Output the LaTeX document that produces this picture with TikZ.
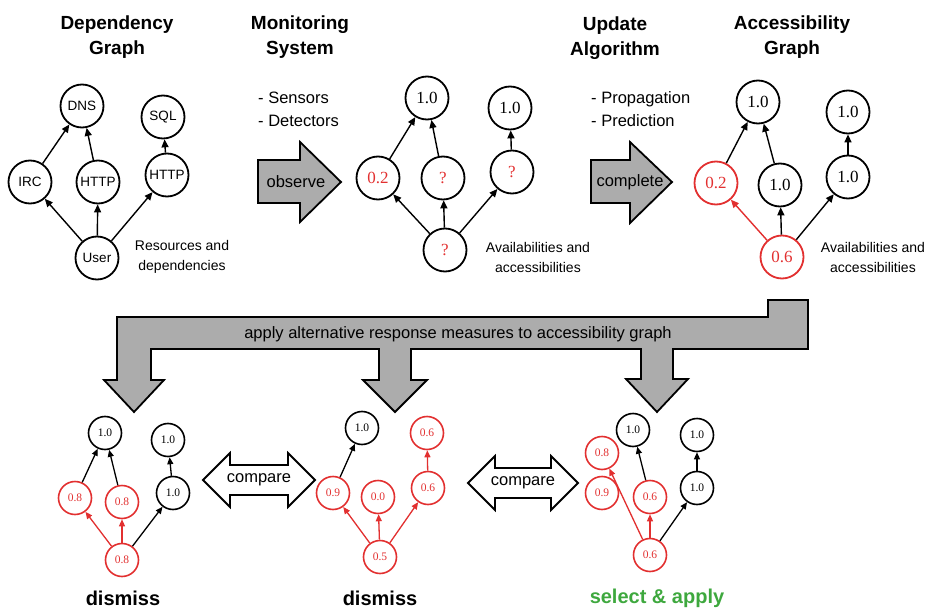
\documentclass[tikz,border=0pt]{standalone}
\usepackage{fontspec}
\setmainfont{Liberation Sans}
\newfontfamily\numfont{Liberation Serif}
\usetikzlibrary{arrows.meta}
\definecolor{nred}{RGB}{226,48,48}
\definecolor{ngreen}{RGB}{62,168,62}
\definecolor{agray}{RGB}{172,172,172}
\begin{document}
\begin{tikzpicture}[x=1pt,y=-1pt,
  titletext/.style={align=center,font=\fontsize{19}{25}\selectfont\bfseries,inner sep=0},
  listtext/.style={align=left,anchor=west,font=\fontsize{16.5}{23}\selectfont,inner sep=0},
  captext/.style={align=center,font=\fontsize{14}{20}\selectfont,inner sep=0},
  gn/.style={circle,draw,line width=1.8,minimum size=43,inner sep=0,font=\fontsize{13.5}{13.5}\selectfont},
  nn/.style={circle,draw,line width=1.8,minimum size=43,inner sep=0,font=\numfont\fontsize{17}{17}\selectfont},
  sn/.style={circle,draw,line width=1.6,minimum size=33,inner sep=0,font=\numfont\fontsize{11.5}{11.5}\selectfont},
  rn/.style={draw=nred,text=nred},
  rt/.style={text=nred},
  edge/.style={-{Triangle[length=8,width=7]},line width=1.4},
  sedge/.style={-{Triangle[length=7,width=6]},line width=1.3},
  redge/.style={draw=nred,fill=nred},
  bigarrow/.style={fill=agray,draw=black,line width=1.8,line join=miter},
  cmparrow/.style={fill=white,draw=black,line width=1.8,line join=miter},
  arrowtext/.style={font=\fontsize{16.5}{16.5}\selectfont,inner sep=0},
  verdict/.style={font=\fontsize{20}{20}\selectfont\bfseries,inner sep=0}
]
\useasboundingbox (0,0) rectangle (930,613);

% titles
\node[titletext] (t1) at (117,37) {Dependency\\Graph};
\node[titletext] (t2) at (300,37) {Monitoring\\System};
\node[titletext] (t3) at (615,38) {Update\\Algorithm};
\node[titletext] (t4) at (792,37) {Accessibility\\Graph};

\node[listtext] (l1) at (258,109) {- Sensors\\- Detectors};
\node[listtext] (l2) at (591,109) {- Propagation\\- Prediction};

% top arrows
\draw[bigarrow] (258,160) -- (300,160) -- (300,142) -- (341,182) -- (300,222) -- (300,203) -- (258,203) -- cycle;
\node[arrowtext] (obs) at (296,182) {observe};
\draw[bigarrow] (591,160) -- (630,160) -- (630,142) -- (672,182) -- (630,223) -- (630,203) -- (591,203) -- cycle;
\node[arrowtext] (cmpl) at (630,182) {complete};

% graph 1: dependency graph
\node[gn] (dns) at (82,106) {DNS};
\node[gn] (sql) at (163,117) {SQL};
\node[gn] (irc) at (30,182) {IRC};
\node[gn] (http1) at (98,182) {HTTP};
\node[gn] (http2) at (167,175) {HTTP};
\node[gn] (user) at (97,258) {User};
\draw[edge] (irc) -- (dns);
\draw[edge] (http1) -- (dns);
\draw[edge] (http2) -- (sql);
\draw[edge] (user) -- (irc);
\draw[edge] (user) -- (http1);
\draw[edge] (user) -- (http2);
\node[captext] (cap1) at (182,257) {Resources and\\dependencies};

% graph 2: monitoring
\node[nn] (a1) at (427,98) {1.0};
\node[nn] (a2) at (510,108) {1.0};
\node[nn,rt] (a3) at (378,178) {0.2};
\node[nn,rt] (a4) at (443,178) {?};
\node[nn,rt] (a5) at (512,172) {?};
\node[nn,rt] (a6) at (445,250) {?};
\draw[edge] (a3) -- (a1);
\draw[edge] (a4) -- (a1);
\draw[edge] (a5) -- (a2);
\draw[edge] (a6) -- (a3);
\draw[edge] (a6) -- (a4);
\draw[edge] (a6) -- (a5);
\node[captext] (cap2) at (538,257) {Availabilities and\\accessibilities};

% graph 3: accessibility graph
\node[nn] (b1) at (758,102) {1.0};
\node[nn] (b2) at (848,112) {1.0};
\node[nn,rn] (b3) at (716,183) {0.2};
\node[nn] (b4) at (780,185) {1.0};
\node[nn] (b5) at (848,177) {1.0};
\node[nn,rn] (b6) at (782,257) {0.6};
\draw[edge] (b3) -- (b1);
\draw[edge] (b4) -- (b1);
\draw[edge] (b5) -- (b2);
\draw[edge,redge] (b6) -- (b3);
\draw[edge] (b6) -- (b4);
\draw[edge] (b6) -- (b5);
\node[captext] (cap3) at (873,257) {Availabilities and\\accessibilities};

% big distribution arrow
\draw[bigarrow] (768,300) -- (808,300) -- (808,349)
  -- (673,349) -- (673,379) -- (688,379) -- (657,412) -- (626,379) -- (641,379) -- (641,349)
  -- (411,349) -- (411,380) -- (427,380) -- (395,412) -- (363,380) -- (379,380) -- (379,349)
  -- (151,349) -- (151,380) -- (164,380) -- (134,412) -- (104,380) -- (117,380)
  -- (117,317) -- (768,317) -- cycle;
\node[arrowtext] (apply) at (458,334) {apply alternative response measures to accessibility graph};

% bottom graph 1
\node[sn] (c1) at (105,433) {1.0};
\node[sn] (c2) at (168,440) {1.0};
\node[sn,rn] (c3) at (75,498) {0.8};
\node[sn,rn] (c4) at (122,502) {0.8};
\node[sn] (c5) at (173,493) {1.0};
\node[sn,rn] (c6) at (122,560) {0.8};
\draw[sedge] (c3) -- (c1);
\draw[sedge] (c4) -- (c1);
\draw[sedge] (c5) -- (c2);
\draw[sedge,redge] (c6) -- (c3);
\draw[sedge,redge] (c6) -- (c4);
\draw[sedge] (c6) -- (c5);
\node[verdict] (v1) at (123,598) {dismiss};

% compare 1
\draw[cmparrow] (203,480) -- (230,453) -- (230,465) -- (288,465) -- (288,453) -- (315,480) -- (288,507) -- (288,495) -- (230,495) -- (230,507) -- cycle;
\node[arrowtext] (cmp1) at (259,480) {compare};

% bottom graph 2
\node[sn] (d1) at (362,428) {1.0};
\node[sn,rn] (d2) at (427,433) {0.6};
\node[sn,rn] (d3) at (333,493) {0.9};
\node[sn,rn] (d4) at (378,497) {0.0};
\node[sn,rn] (d5) at (428,488) {0.6};
\node[sn,rn] (d6) at (380,557) {0.5};
\draw[sedge] (d3) -- (d1);
\draw[sedge,redge] (d5) -- (d2);
\draw[sedge,redge] (d6) -- (d3);
\draw[sedge,redge] (d6) -- (d4);
\draw[sedge,redge] (d6) -- (d5);
\node[verdict] (v2) at (380,598) {dismiss};

% compare 2
\draw[cmparrow] (468,483) -- (495,456) -- (495,468) -- (551,468) -- (551,456) -- (578,483) -- (551,510) -- (551,498) -- (495,498) -- (495,510) -- cycle;
\node[arrowtext] (cmp2) at (523,483) {compare};

% bottom graph 3
\node[sn] (e1) at (633,430) {1.0};
\node[sn] (e2) at (697,435) {1.0};
\node[sn,rn] (e3) at (602,453) {0.8};
\node[sn,rn] (e4) at (602,493) {0.9};
\node[sn,rn] (e5) at (650,497) {0.6};
\node[sn] (e6) at (697,488) {1.0};
\node[sn,rn] (e7) at (650,555) {0.6};
\draw[sedge,redge] (e7) -- (e3);
\draw[sedge,redge] (e7) -- (e5);
\draw[sedge] (e5) -- (e1);
\draw[sedge] (e7) -- (e6);
\draw[sedge] (e6) -- (e2);
\node[verdict,text=ngreen] (v3) at (657,598) {select \& apply};
\end{tikzpicture}
\end{document}
